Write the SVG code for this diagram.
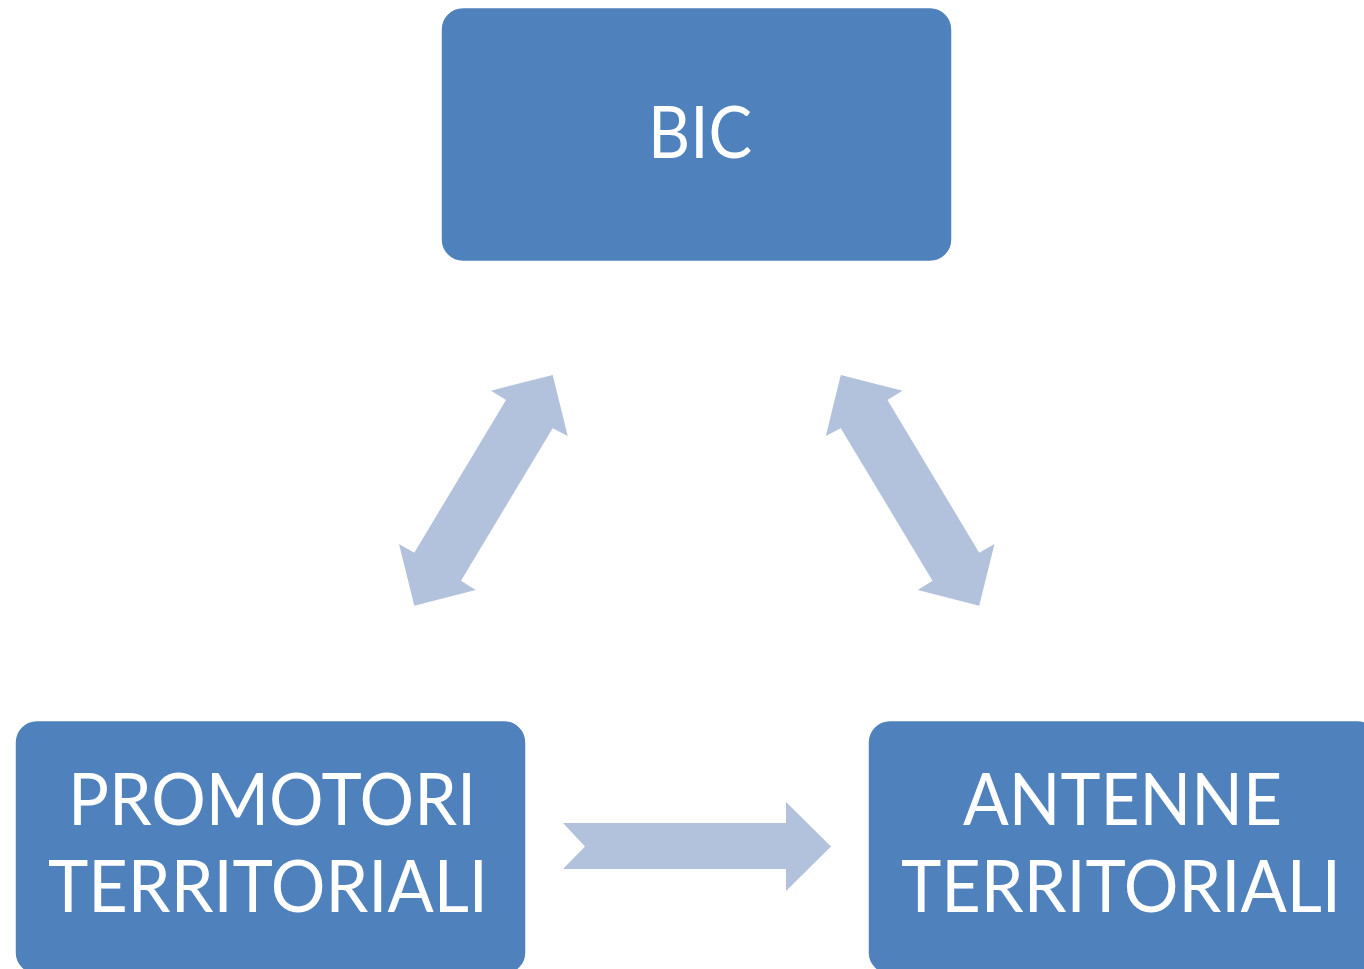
<svg xmlns="http://www.w3.org/2000/svg" width="1364" height="969" viewBox="0 0 1364 969">
<style>
.node rect{fill:#4F81BD;stroke:#FFFFFF;stroke-width:1.5}
.node text{fill:#FFFFFF;font-family:Lato,"Open Sans","Liberation Sans",sans-serif;font-size:71px;text-anchor:middle}
.conn polygon{fill:#B3C2DC}
</style>
<rect width="1364" height="969" fill="#FFFFFF"/>
<g id="connectors" class="conn">
<polygon points="552.7,375 567.7,436 552.7,428.3 461,580.7 475.7,590 414.3,605.7 399,544 414.3,552.7 506,400 491,390.7"/>
<polygon points="840.8,375 825.8,436 840.8,428.3 932.5,580.7 917.8,590 979.2,605.7 994.5,544 979.2,552.7 887.5,400 902.5,390.7"/>
<polygon points="563,823 786,823 786,802 831,846.5 786,891 786,869 563,869 585,846.5"/>
</g>
<g id="node-bic" class="node">
<rect x="441" y="7.5" width="511" height="254" rx="22" ry="22"/>
<text x="700" y="158" textLength="104" lengthAdjust="spacingAndGlyphs">BIC</text>
</g>
<g id="node-promotori" class="node">
<rect x="15" y="720.5" width="511" height="254" rx="22" ry="22"/>
<text x="272" y="825" textLength="408" lengthAdjust="spacingAndGlyphs">PROMOTORI</text>
<text x="268" y="912" textLength="440" lengthAdjust="spacingAndGlyphs">TERRITORIALI</text>
</g>
<g id="node-antenne" class="node">
<rect x="868" y="720.5" width="511" height="254" rx="22" ry="22"/>
<text x="1122.5" y="825" textLength="319" lengthAdjust="spacingAndGlyphs">ANTENNE</text>
<text x="1121" y="912" textLength="440" lengthAdjust="spacingAndGlyphs">TERRITORIALI</text>
</g>
</svg>
